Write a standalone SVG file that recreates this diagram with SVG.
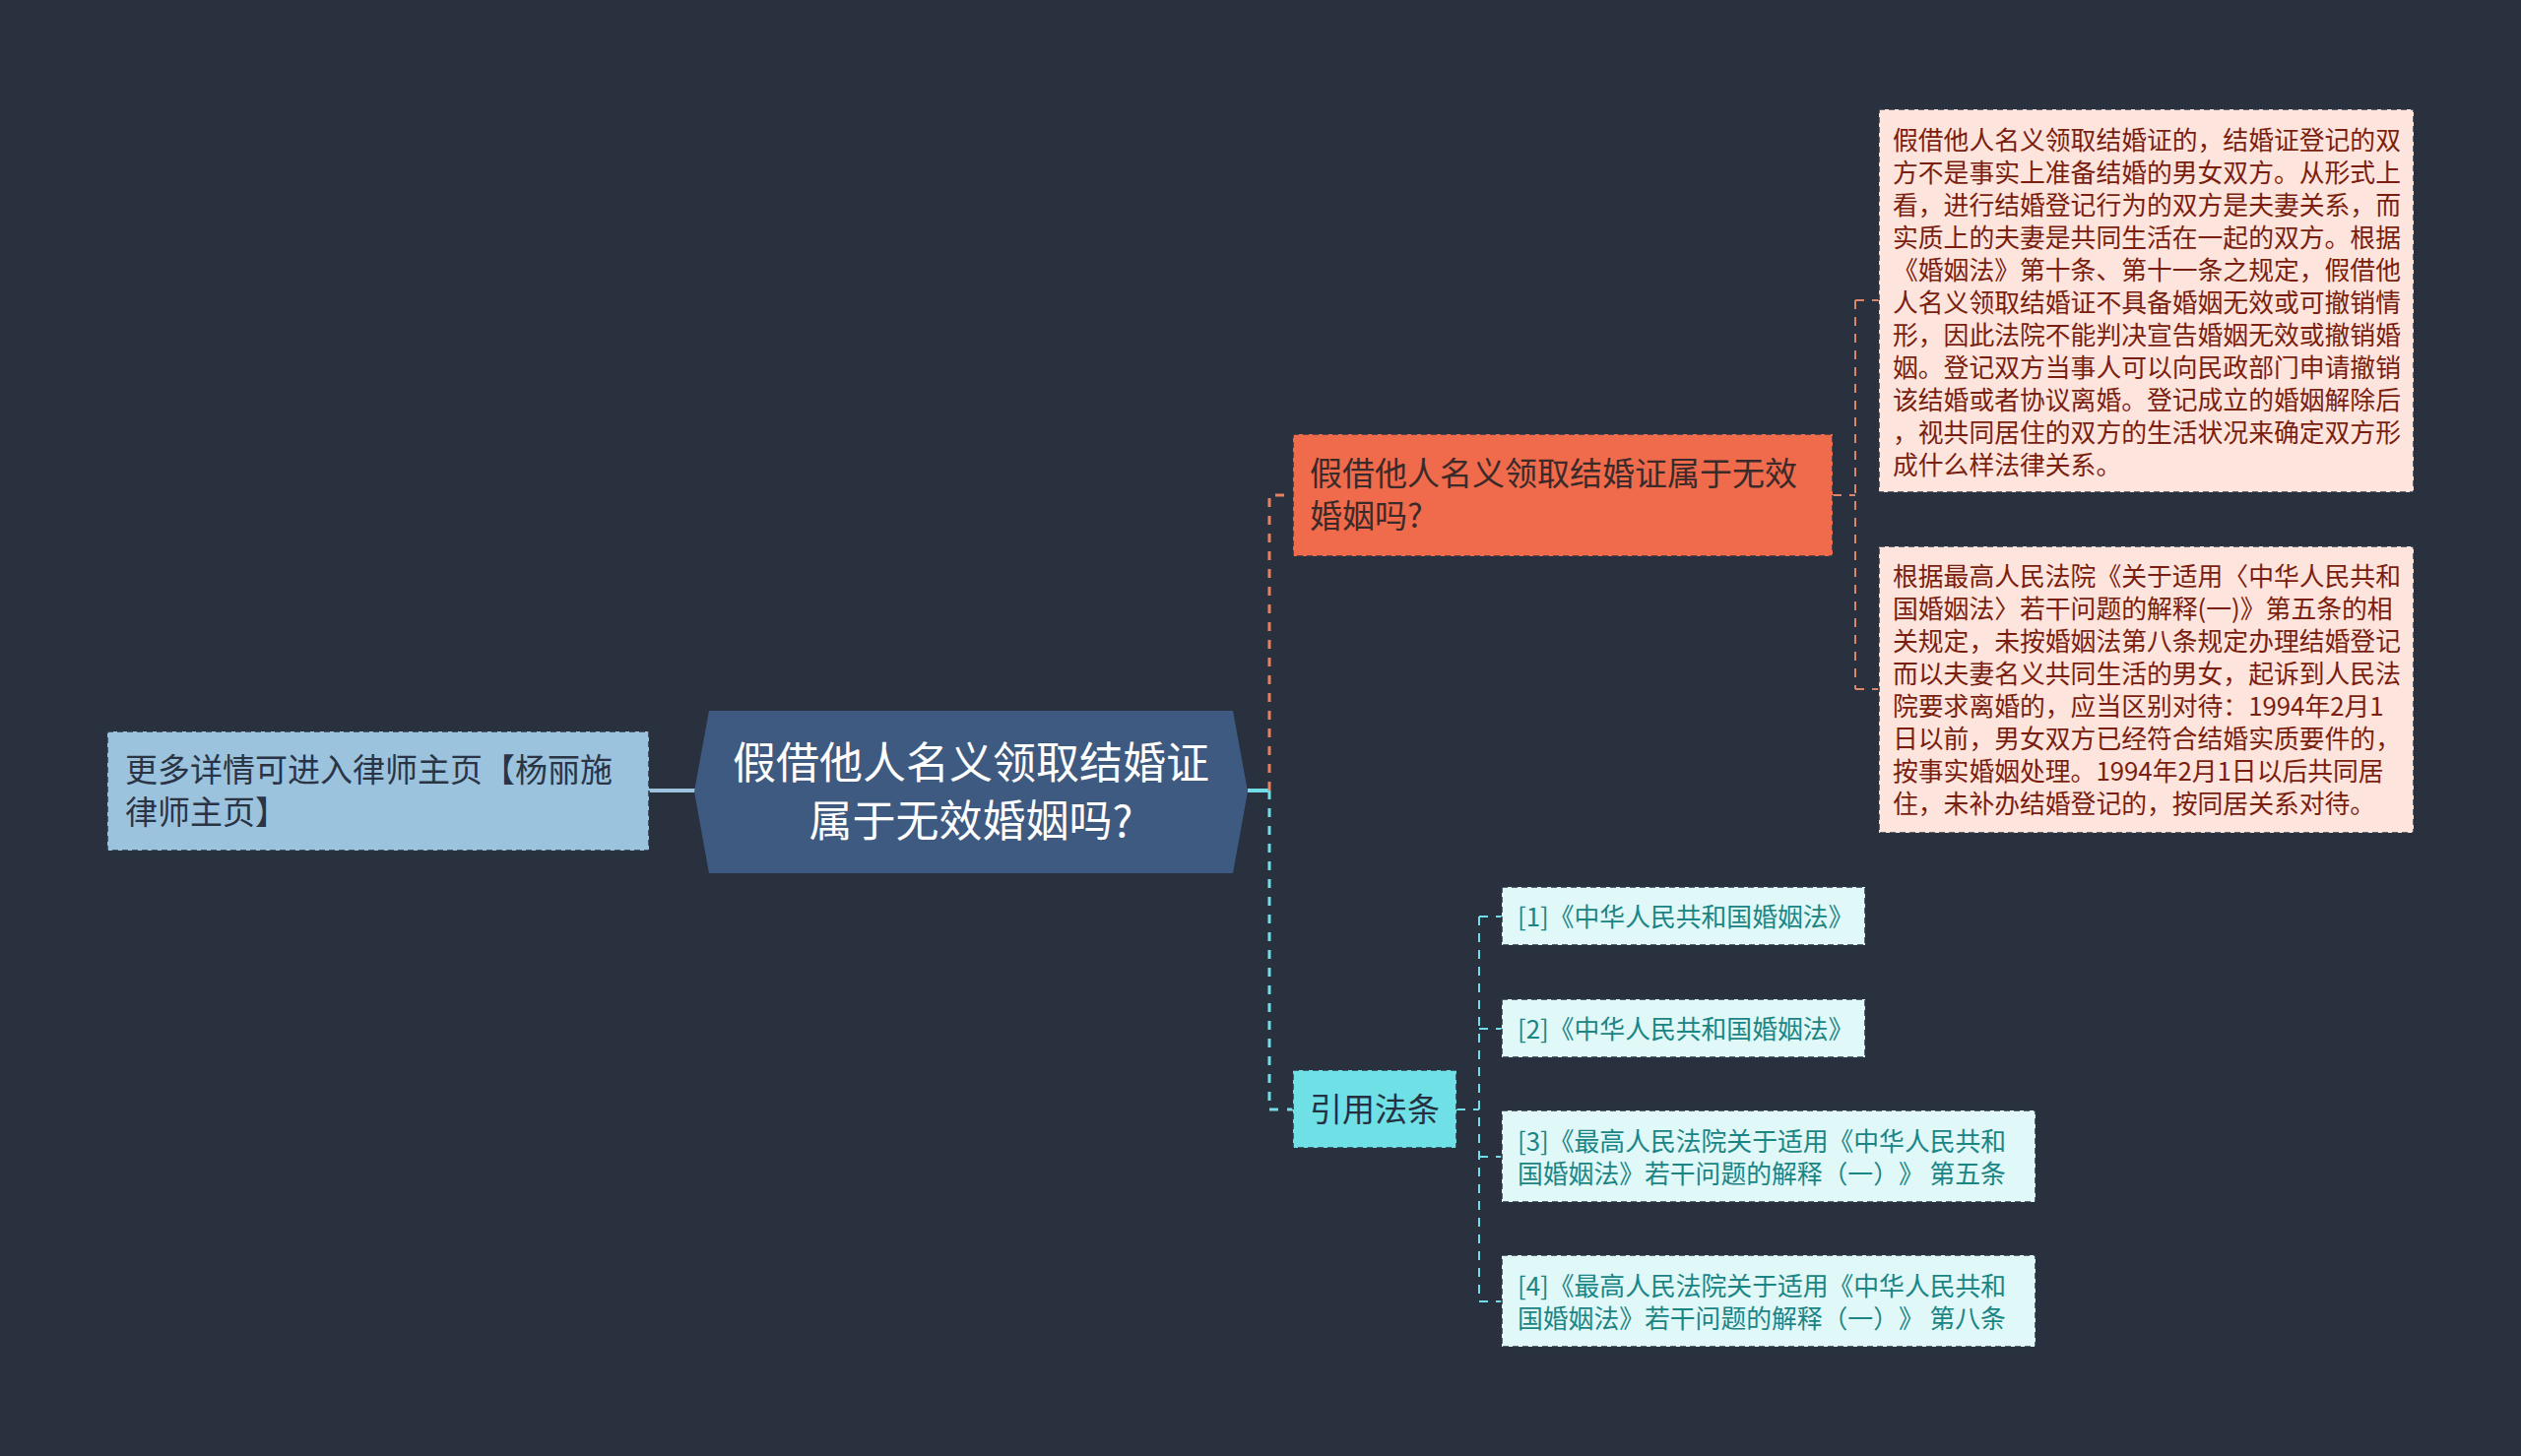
<svg xmlns="http://www.w3.org/2000/svg" width="2560" height="1479" viewBox="0 0 2560 1479">
<style>
text{font-family:"Noto Sans CJK SC","Noto Sans",sans-serif;text-spacing-trim:space-all;}
.box{stroke:#2b3444;stroke-width:1.5;stroke-dasharray:6 4;}
.pink{fill:#fde4dc;}
.pinkt{fill:#7a1e10;font-size:25.8px;}
.reft{fill:#1b8585;font-size:25.8px;}
.ref{fill:#e0f8f8;}
.co{fill:none;stroke:#e8805e;stroke-width:3;stroke-dasharray:9 9;}
.cc{fill:none;stroke:#72dde6;stroke-width:3;stroke-dasharray:9 9;}
.co2{fill:none;stroke:#d9866c;stroke-width:2;stroke-dasharray:9 8;}
.cc2{fill:none;stroke:#72dde6;stroke-width:2;stroke-dasharray:9 8;}
</style>
<rect width="2560" height="1479" fill="#29313f"/>
<g id="connectors">
<path d="M659 803 H707" fill="none" stroke="#9dc3de" stroke-width="4"/>
<path d="M1267 803 H1289" fill="none" stroke="#72dde6" stroke-width="4"/>
<path class="co" d="M1289 803 V503 H1313"/>
<path class="cc" d="M1289 803 V1127 H1313"/>
<path class="co2" d="M1861 503 H1884 M1884 305 V700 M1884 305 H1908 M1884 700 H1908"/>
<path class="cc2" d="M1479 1127 H1502 M1502 931 V1322 M1502 931 H1525 M1502 1045 H1525 M1502 1175 H1525 M1502 1322 H1525"/>
</g>
<g id="center">
<polygon points="705,804 720,722 1252,722 1267,804 1252,887 720,887" fill="#3e5a80"/>
<text x="986" y="791" font-size="44" fill="#ffffff" text-anchor="middle">假借他人名义领取结婚证</text>
<text x="986" y="850" font-size="44" fill="#ffffff" text-anchor="middle">属于无效婚姻吗?</text>
</g>
<g id="left">
<rect class="box" x="109" y="743" width="550" height="121" fill="#9cc3dd"/>
<text x="127" y="794" font-size="33" fill="#2b3445">更多详情可进入律师主页【杨丽施</text>
<text x="127" y="837" font-size="33" fill="#2b3445">律师主页】</text>
</g>
<g id="q">
<rect class="box" x="1313" y="441" width="548" height="124" fill="#ef6b4c"/>
<text x="1330" y="493" font-size="33" fill="#3b2a2a">假借他人名义领取结婚证属于无效</text>
<text x="1330" y="536" font-size="33" fill="#3b2a2a">婚姻吗?</text>
</g>
<g id="ans1">
<rect class="box pink" x="1908" y="111" width="543" height="389"/>
<text class="pinkt" x="1922" y="152">假借他人名义领取结婚证的，结婚证登记的双</text>
<text class="pinkt" x="1922" y="185">方不是事实上准备结婚的男女双方。从形式上</text>
<text class="pinkt" x="1922" y="218">看，进行结婚登记行为的双方是夫妻关系，而</text>
<text class="pinkt" x="1922" y="251">实质上的夫妻是共同生活在一起的双方。根据</text>
<text class="pinkt" x="1922" y="284">《婚姻法》第十条、第十一条之规定，假借他</text>
<text class="pinkt" x="1922" y="317">人名义领取结婚证不具备婚姻无效或可撤销情</text>
<text class="pinkt" x="1922" y="350">形，因此法院不能判决宣告婚姻无效或撤销婚</text>
<text class="pinkt" x="1922" y="383">姻。登记双方当事人可以向民政部门申请撤销</text>
<text class="pinkt" x="1922" y="416">该结婚或者协议离婚。登记成立的婚姻解除后</text>
<text class="pinkt" x="1922" y="449">，视共同居住的双方的生活状况来确定双方形</text>
<text class="pinkt" x="1922" y="482">成什么样法律关系。</text>
</g>
<g id="ans2">
<rect class="box pink" x="1908" y="555" width="543" height="291"/>
<text class="pinkt" x="1922" y="595">根据最高人民法院《关于适用〈中华人民共和</text>
<text class="pinkt" x="1922" y="628">国婚姻法〉若干问题的解释(一)》第五条的相</text>
<text class="pinkt" x="1922" y="661">关规定，未按婚姻法第八条规定办理结婚登记</text>
<text class="pinkt" x="1922" y="694">而以夫妻名义共同生活的男女，起诉到人民法</text>
<text class="pinkt" x="1922" y="727">院要求离婚的，应当区别对待：1994年2月1</text>
<text class="pinkt" x="1922" y="760">日以前，男女双方已经符合结婚实质要件的，</text>
<text class="pinkt" x="1922" y="793">按事实婚姻处理。1994年2月1日以后共同居</text>
<text class="pinkt" x="1922" y="826">住，未补办结婚登记的，按同居关系对待。</text>
</g>
<g id="law">
<rect class="box" x="1313" y="1087" width="166" height="79" fill="#6fe0e6"/>
<text x="1330" y="1139" font-size="33" fill="#253040">引用法条</text>
</g>
<g id="ref1">
<rect class="box ref" x="1525" y="901" width="369" height="59"/>
<text class="reft" x="1541" y="941">[1]《中华人民共和国婚姻法》</text>
</g>
<g id="ref2">
<rect class="box ref" x="1525" y="1015" width="369" height="59"/>
<text class="reft" x="1541" y="1055">[2]《中华人民共和国婚姻法》</text>
</g>
<g id="ref3">
<rect class="box ref" x="1525" y="1128" width="542" height="93"/>
<text class="reft" x="1541" y="1169">[3]《最高人民法院关于适用《中华人民共和</text>
<text class="reft" x="1541" y="1202">国婚姻法》若干问题的解释（一）》 第五条</text>
</g>
<g id="ref4">
<rect class="box ref" x="1525" y="1275" width="542" height="93"/>
<text class="reft" x="1541" y="1316">[4]《最高人民法院关于适用《中华人民共和</text>
<text class="reft" x="1541" y="1349">国婚姻法》若干问题的解释（一）》 第八条</text>
</g>
</svg>
